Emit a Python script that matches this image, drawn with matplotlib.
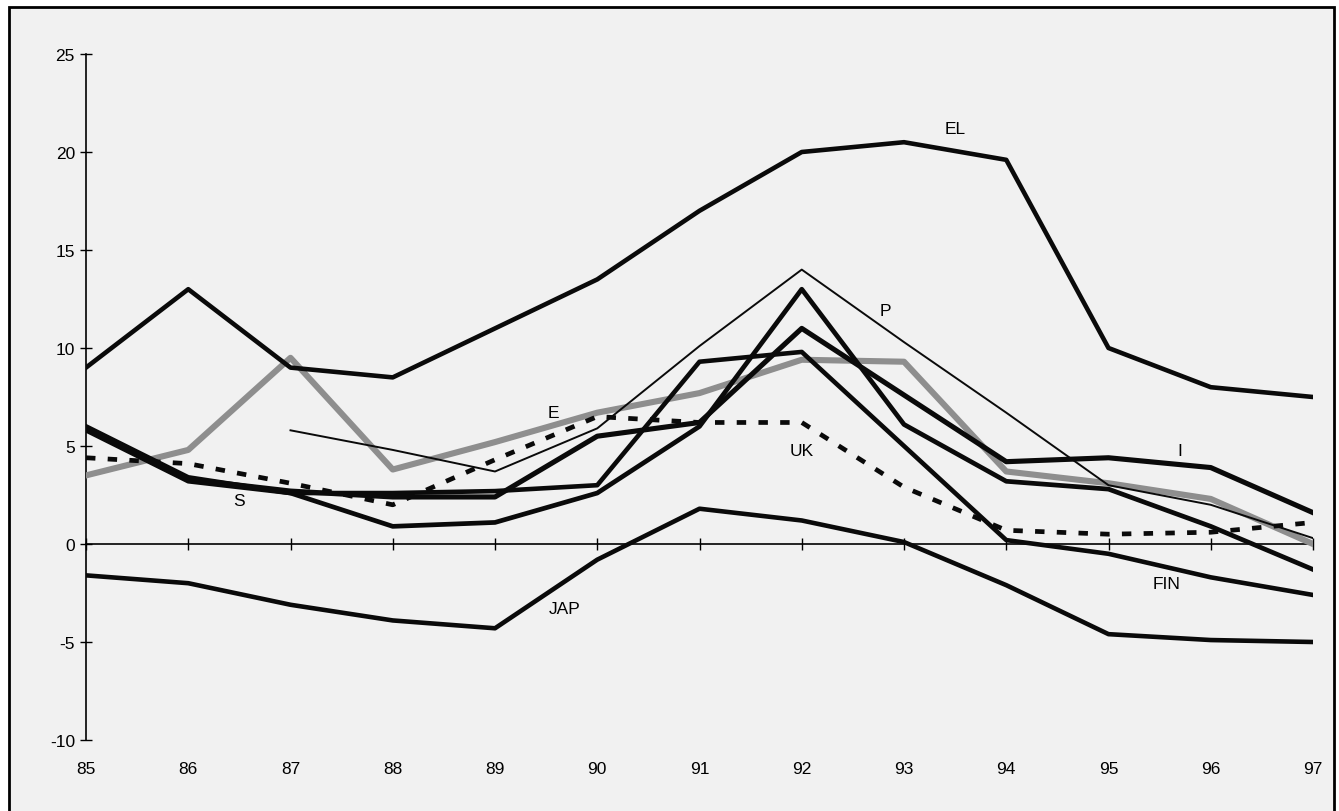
import numpy as np
import matplotlib
matplotlib.use("Agg")
import matplotlib.pyplot as plt
from matplotlib.patches import Rectangle

plt.rcParams['font.family'] = ['Liberation Sans', 'DejaVu Sans']

years = [85, 86, 87, 88, 89, 90, 91, 92, 93, 94, 95, 96, 97]
year_labels = [str(y) for y in years]
nan = np.nan

EL  = [9.0, 13.0, 9.0, 8.5, 11.0, 13.5, 17.0, 20.0, 20.5, 19.6, 10.0, 8.0, 7.5]
P   = [nan, nan, 5.8, 4.8, 3.7, 5.9, 10.1, 14.0, 10.3, 6.7, 3.0, 2.0, 0.3]
E   = [3.5, 4.8, 9.5, 3.8, 5.2, 6.7, 7.7, 9.4, 9.3, 3.7, 3.1, 2.3, 0.0]
UK  = [4.4, 4.1, 3.1, 2.0, 4.3, 6.5, 6.2, 6.2, 2.9, 0.7, 0.5, 0.6, 1.1]
S   = [6.0, 3.4, 2.6, 0.9, 1.1, 2.6, 6.0, 13.0, 6.1, 3.2, 2.8, 0.9, -1.3]
I   = [5.9, 3.3, 2.7, 2.4, 2.4, 5.5, 6.2, 11.0, 7.6, 4.2, 4.4, 3.9, 1.6]
FIN = [5.8, 3.2, 2.6, 2.6, 2.7, 3.0, 9.3, 9.8, 5.0, 0.2, -0.5, -1.7, -2.6]
JAP = [-1.6, -2.0, -3.1, -3.9, -4.3, -0.8, 1.8, 1.2, 0.1, -2.1, -4.6, -4.9, -5.0]

y_ticks = [-10, -5, 0, 5, 10, 15, 20, 25]

W, H = 1339, 812
fig = plt.figure(figsize=(W / 100, H / 100), dpi=100)
fig.patch.set_facecolor('white')

# scanned page frame with light grey fill
frame = Rectangle((9 / W, -0.02), (1334 - 9) / W, (1 - 8 / H) + 0.02,
                  transform=fig.transFigure, facecolor='#f1f1f1',
                  edgecolor='black', linewidth=2.0, zorder=-5)
fig.patches.append(frame)

ax = fig.add_axes([86 / W, 1 - 741 / H, (1313 - 86) / W, (741 - 55) / H])
ax.set_zorder(2)
ax.set_facecolor('none')
ax.set_xlim(85, 97)
ax.set_ylim(-10, 25)

black = '#0a0a0a'
ax.plot(years, EL, color=black, lw=3.3, solid_joinstyle='round', zorder=5)
ax.plot(years, P, color=black, lw=1.4, zorder=6)
ax.plot(years, E, color='#8e8e8e', lw=4.4, zorder=4)
ax.plot(years, UK, color=black, lw=3.4, linestyle=(0, (2.0, 2.6)), zorder=5)
ax.plot(years, S, color=black, lw=3.4, solid_joinstyle='round', zorder=5)
ax.plot(years, I, color=black, lw=3.7, solid_joinstyle='round', zorder=5)
ax.plot(years, FIN, color=black, lw=3.3, solid_joinstyle='round', zorder=5)
ax.plot(years, JAP, color=black, lw=3.3, solid_joinstyle='round', zorder=5)

# series labels
lab = dict(fontsize=12.5, color='black', ha='center', va='center', zorder=8)
ax.text(93.5, 21.2, 'EL', **lab)
ax.text(92.82, 11.9, 'P', **lab)
ax.text(89.57, 6.7, 'E', **lab)
ax.text(92.0, 4.75, 'UK', **lab)
ax.text(95.7, 4.75, 'I', **lab)
ax.text(86.5, 2.2, 'S', **lab)
ax.text(95.57, -2.0, 'FIN', **lab)
ax.text(89.68, -3.3, 'JAP', **lab)

# axes styling
for sp in ['top', 'right']:
    ax.spines[sp].set_visible(False)
ax.spines['left'].set_linewidth(1.2)
ax.spines['bottom'].set_position(('data', 0))
ax.spines['bottom'].set_linewidth(1.2)
ax.set_yticks(y_ticks)
ax.set_yticklabels([str(v) for v in y_ticks])
ax.tick_params(axis='y', direction='inout', length=8, width=1.0,
               labelsize=12.5, pad=4)
ax.set_xticks(years)
ax.tick_params(axis='x', direction='inout', length=9, width=1.0,
               labelbottom=False)

sec = ax.secondary_xaxis('bottom')
sec.set_xticks(years)
sec.set_xticklabels(year_labels)
sec.tick_params(length=0, labelsize=12.5, pad=15)
sec.spines['bottom'].set_visible(False)

fig.savefig('out.png', dpi=100, facecolor=fig.get_facecolor())
